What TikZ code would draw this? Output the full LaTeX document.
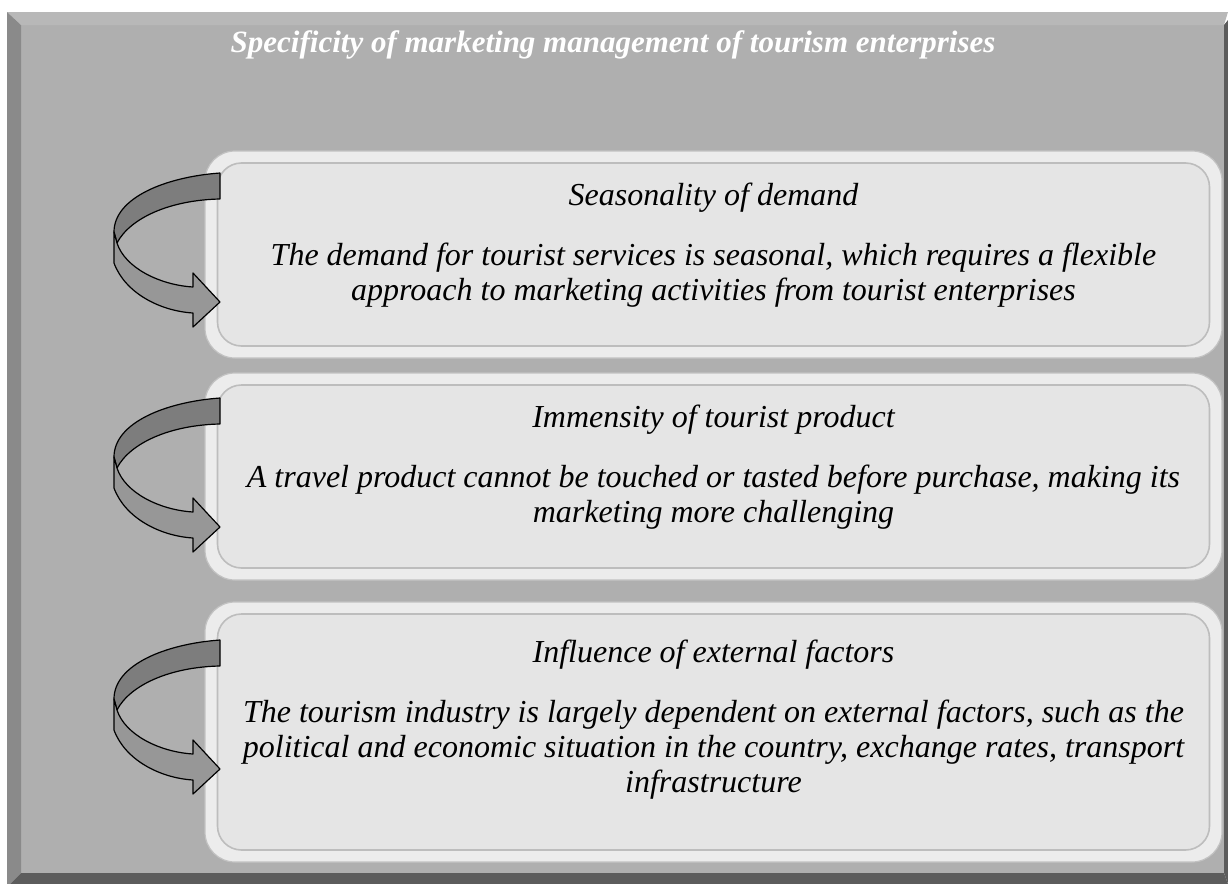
\documentclass[tikz,border=0pt]{standalone}
\usepackage{fontspec}
\setmainfont{Liberation Serif}
\definecolor{face}{HTML}{AFAFAF}
\definecolor{bandtop}{HTML}{B8B8B8}
\definecolor{bandleft}{HTML}{8A8A8A}
\definecolor{banddark}{HTML}{5C5C5C}
\definecolor{ringfill}{HTML}{ECECEC}
\definecolor{ringline}{HTML}{C2C2C2}
\definecolor{innerfill}{HTML}{E5E5E5}
\definecolor{innerline}{HTML}{BDBDBD}
\definecolor{arrowdark}{HTML}{7D7D7D}
\definecolor{arrowlight}{HTML}{979797}

\begin{document}
\begin{tikzpicture}[x=0.5pt, y=-0.5pt,
    every node/.style={font=\fontsize{16}{17.5}\selectfont\itshape},
    ob/.style={draw=ringline, line width=0.6pt, fill=ringfill, rounded corners=15pt, minimum width=508.5pt, minimum height=103.5pt, inner sep=0pt},
    ib/.style={draw=innerline, line width=0.8pt, fill=innerfill, rounded corners=12pt, minimum width=496pt, minimum height=91.5pt, inner sep=0pt},
    tx/.style={align=center, inner sep=0pt},
    arback/.style={fill=arrowdark, draw=black, line width=0.6pt, line join=round},
    arfront/.style={fill=arrowlight, draw=black, line width=0.6pt, line join=round},
    bentarrow/.pic={
      \filldraw[arback] (0,0) .. controls (-55,4) and (-106,25) .. (-106,59) -- (-103,70)
        .. controls (-90,45) and (-50,27) .. (0,26) -- cycle;
      \filldraw[arfront] (-106,59) -- (-106,90) .. controls (-95,120) and (-60,138) .. (-27,140)
        -- (-27,154) -- (0,129) -- (-27,100) -- (-27,114)
        .. controls (-60,112) and (-95,95) .. (-103,70) -- cycle;
    }
]
\def\hd#1{#1\\[12.5pt]}
\useasboundingbox (0,0) rectangle (1228,884);
\fill[face] (21,25) rectangle (1224,873);
\fill[bandtop] (7,12) -- (1228,12) -- (1224,25) -- (21,25) -- cycle;
\fill[bandleft] (7,12) -- (21,25) -- (21,873) -- (10,884) -- (7,884) -- cycle;
\fill[banddark] (10,884) -- (21,873) -- (1224,873) -- (1228,884) -- cycle;
\fill[banddark] (1228,20) -- (1228,884) -- (1224,873) -- (1224,25) -- cycle;

\node[font=\fontsize{15.5}{18}\selectfont\bfseries\itshape, text=white, anchor=base] (title) at (613,52)
  {Specificity of marketing management of tourism enterprises};

\node[ob] (season) at (713.5,254.5) {};
\node[ib] (seasonin) at (season) {};
\node[tx, yshift=4.5pt] (seasontx) at (season) {\hd{Seasonality of demand}The demand for tourist services is seasonal, which requires a flexible\\approach to marketing activities from tourist enterprises};

\node[ob] (immens) at (713.5,476.5) {};
\node[ib] (immensin) at (immens) {};
\node[tx, yshift=4.5pt] (immenstx) at (immens) {\hd{Immensity of tourist product}A travel product cannot be touched or tasted before purchase, making its\\marketing more challenging};

\node[ob, minimum height=130pt] (extern) at (713.5,732) {};
\node[ib, minimum height=118pt] (externin) at (extern) {};
\node[tx, yshift=6pt] (externtx) at (extern) {\hd{Influence of external factors}The tourism industry is largely dependent on external factors, such as the\\political and economic situation in the country, exchange rates, transport\\infrastructure};

\pic at (220,173) {bentarrow};
\pic at (220,398) {bentarrow};
\pic at (220,640) {bentarrow};
\end{tikzpicture}
\end{document}
